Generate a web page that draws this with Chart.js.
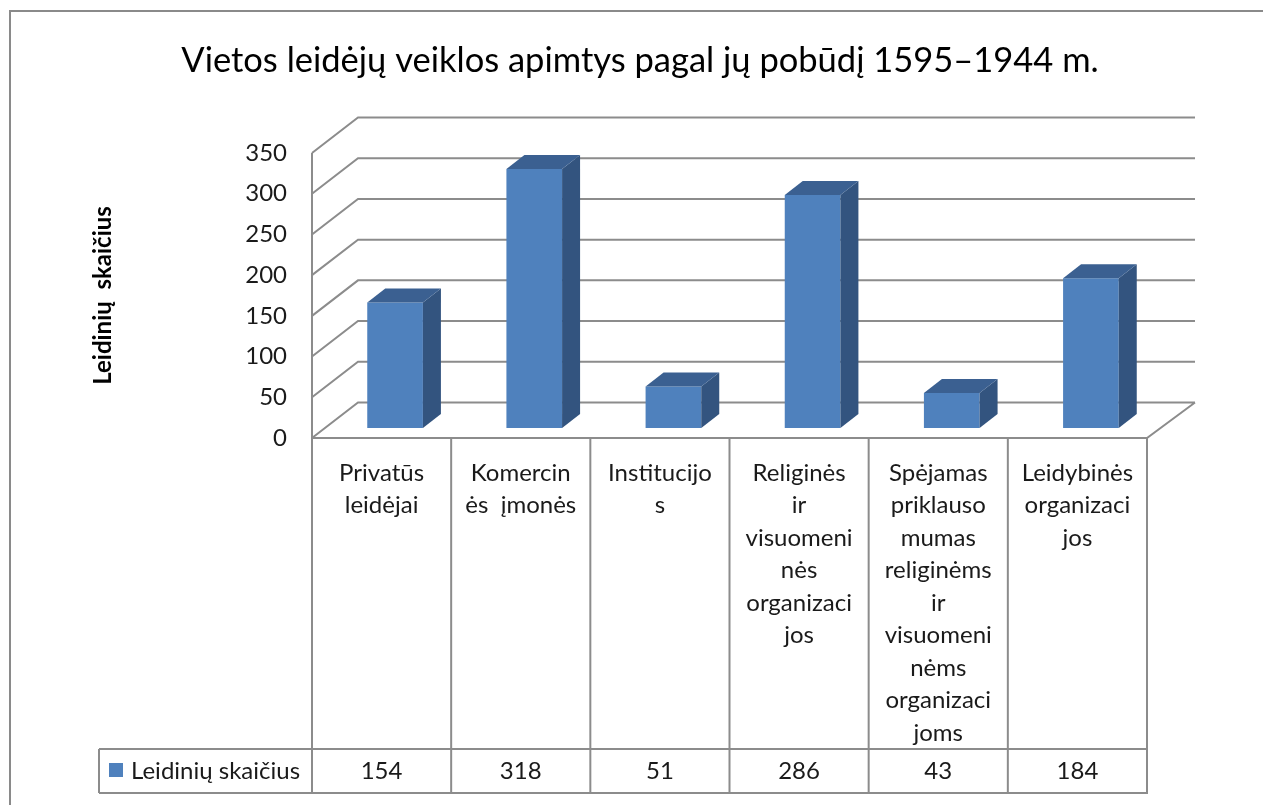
<!DOCTYPE html>
<html>
<head>
<meta charset="utf-8">
<script src="https://cdn.jsdelivr.net/npm/chart.js@4.4.1/dist/chart.umd.min.js"></script>
<style>
  html, body { margin: 0; padding: 0; background: #fff; }
  #wrap { width: 1263px; height: 805px; }
</style>
</head>
<body>
<div id="wrap"><canvas id="chart" width="1263" height="805"></canvas></div>
<script>
// duomenys
const chartTitle = 'Vietos leidėjų veiklos apimtys pagal jų pobūdį 1595–1944 m.';
const seriesName = 'Leidinių skaičius';
const yAxisTitle = 'Leidinių  skaičius';
const categories = [
  ['Privatūs', 'leidėjai'],
  ['Komercin', 'ės  įmonės'],
  ['Institucijo', 's'],
  ['Religinės', 'ir', 'visuomeni', 'nės', 'organizaci', 'jos'],
  ['Spėjamas', 'priklauso', 'mumas', 'religinėms', 'ir', 'visuomeni', 'nėms', 'organizaci', 'joms'],
  ['Leidybinės', 'organizaci', 'jos']
];
const values = [154, 318, 51, 286, 43, 184];
const yTicks = [0, 50, 100, 150, 200, 250, 300, 350];

const FONT = 'Lato, "Open Sans", sans-serif';
const GRID = '#8c8c8c';
const BAR_FRONT = '#4f81bd';
const BAR_TOP = '#3b6091';
const BAR_SIDE = '#33547f';

// 3D perspektyva
const WALL_DX = 46, WALL_DY = -35.5;   // galinė siena
const BAR_SX = 13.5, BAR_SY = -10;     // stulpelio priekis
const BAR_DX = 18, BAR_DY = -14;       // stulpelio gylis

const wallPlugin = {
  id: 'wall3d',
  beforeDatasetsDraw(chart) {
    const { ctx, chartArea: a, scales: { y } } = chart;
    ctx.save();
    ctx.strokeStyle = GRID;
    ctx.lineWidth = 2;
    ctx.beginPath();
    yTicks.forEach(v => {
      const py = y.getPixelForValue(v);
      ctx.moveTo(a.left, py);
      ctx.lineTo(a.left + WALL_DX, py + WALL_DY);
      ctx.lineTo(a.right + WALL_DX + 2, py + WALL_DY);
    });
    // kairė briauna
    ctx.moveTo(a.left, y.getPixelForValue(350));
    ctx.lineTo(a.left, a.bottom);
    // grindys
    ctx.lineTo(a.right, a.bottom);
    ctx.lineTo(a.right + WALL_DX + 2, a.bottom + WALL_DY);
    ctx.stroke();
    ctx.restore();

    // priekinė plokštuma paslenkama į gylį
    ctx.save();
    ctx.translate(BAR_SX, BAR_SY);
  },
  afterDatasetsDraw(chart) {
    const { ctx } = chart;
    ctx.restore();
    const meta = chart.getDatasetMeta(0);
    ctx.save();
    meta.data.forEach(bar => {
      const p = bar.getProps(['x', 'y', 'base', 'width'], true);
      const l = p.x - p.width / 2 + BAR_SX;
      const r = p.x + p.width / 2 + BAR_SX;
      const t = p.y + BAR_SY;
      const b = p.base + BAR_SY;
      ctx.fillStyle = BAR_SIDE;
      ctx.beginPath();
      ctx.moveTo(r, t);
      ctx.lineTo(r + BAR_DX, t + BAR_DY);
      ctx.lineTo(r + BAR_DX, b + BAR_DY);
      ctx.lineTo(r, b);
      ctx.closePath();
      ctx.fill();
      ctx.fillStyle = BAR_TOP;
      ctx.beginPath();
      ctx.moveTo(l, t);
      ctx.lineTo(l + BAR_DX, t + BAR_DY);
      ctx.lineTo(r + BAR_DX, t + BAR_DY);
      ctx.lineTo(r, t);
      ctx.closePath();
      ctx.fill();
    });
    ctx.restore();
  },
  afterDraw(chart) {
    const { ctx, chartArea: a, scales: { x } } = chart;
    const colW = (a.right - a.left) / categories.length;
    const rowTop = a.bottom;
    const rowMid = 749;
    const rowBot = 793;
    const legendLeft = 99;

    ctx.save();
    // rėmelis
    ctx.strokeStyle = '#8a8a8a';
    ctx.lineWidth = 2;
    ctx.strokeRect(10, 11, 1300, 900);

    // pavadinimas
    ctx.fillStyle = '#000';
    ctx.font = '34.5px ' + FONT;
    ctx.textAlign = 'center';
    ctx.textBaseline = 'middle';
    ctx.fillText(chartTitle, 640, 61);

    // duomenų lentelė
    ctx.strokeStyle = GRID;
    ctx.lineWidth = 2;
    ctx.beginPath();
    for (let i = 0; i <= categories.length; i++) {
      const px = a.left + i * colW;
      ctx.moveTo(px, rowTop);
      ctx.lineTo(px, rowBot);
    }
    ctx.moveTo(legendLeft, rowMid);
    ctx.lineTo(a.right + 1, rowMid);
    ctx.moveTo(legendLeft, rowBot);
    ctx.lineTo(a.right + 1, rowBot);
    ctx.moveTo(legendLeft, rowMid);
    ctx.lineTo(legendLeft, rowBot);
    ctx.stroke();

    ctx.fillStyle = '#1a1a1a';
    ctx.font = '24px ' + FONT;
    ctx.textAlign = 'center';
    ctx.textBaseline = 'middle';
    categories.forEach((lines, i) => {
      const cx = x.getPixelForValue(i);
      lines.forEach((ln, k) => ctx.fillText(ln, cx, 473 + k * 32.5));
      ctx.fillText(String(values[i]), cx, 771);
    });

    // legenda
    ctx.fillStyle = BAR_FRONT;
    ctx.fillRect(109, 763, 14, 14);
    ctx.fillStyle = '#1a1a1a';
    ctx.textAlign = 'left';
    ctx.fillText(seriesName, 131, 771);
    ctx.restore();
  }
};

new Chart(document.getElementById('chart'), {
  type: 'bar',
  data: {
    labels: categories,
    datasets: [{
      label: seriesName,
      data: values,
      backgroundColor: BAR_FRONT,
      borderWidth: 0,
      categoryPercentage: 1,
      barPercentage: 0.4
    }]
  },
  options: {
    responsive: false,
    animation: false,
    layout: { padding: { left: 0, top: 153, right: 116, bottom: 367 } },
    plugins: {
      legend: { display: false },
      tooltip: { enabled: false }
    },
    scales: {
      x: {
        display: true,
        grid: { display: false, drawTicks: false },
        border: { display: false },
        ticks: { display: false },
        afterFit: s => { s.height = 0; }
      },
      y: {
        min: 0,
        max: 350,
        afterFit: s => { s.width = 312; },
        afterBuildTicks: s => { s.ticks = yTicks.map(v => ({ value: v })); },
        grid: { display: false, drawTicks: false },
        border: { display: false },
        ticks: {
          padding: 25,
          color: '#1a1a1a',
          font: { family: FONT, size: 24 }
        },
        title: {
          display: true,
          text: yAxisTitle,
          color: '#000',
          font: { family: FONT, size: 24, weight: 'bold' },
          padding: { top: 89, bottom: 0 }
        }
      }
    }
  },
  plugins: [wallPlugin]
});
</script>
</body>
</html>
